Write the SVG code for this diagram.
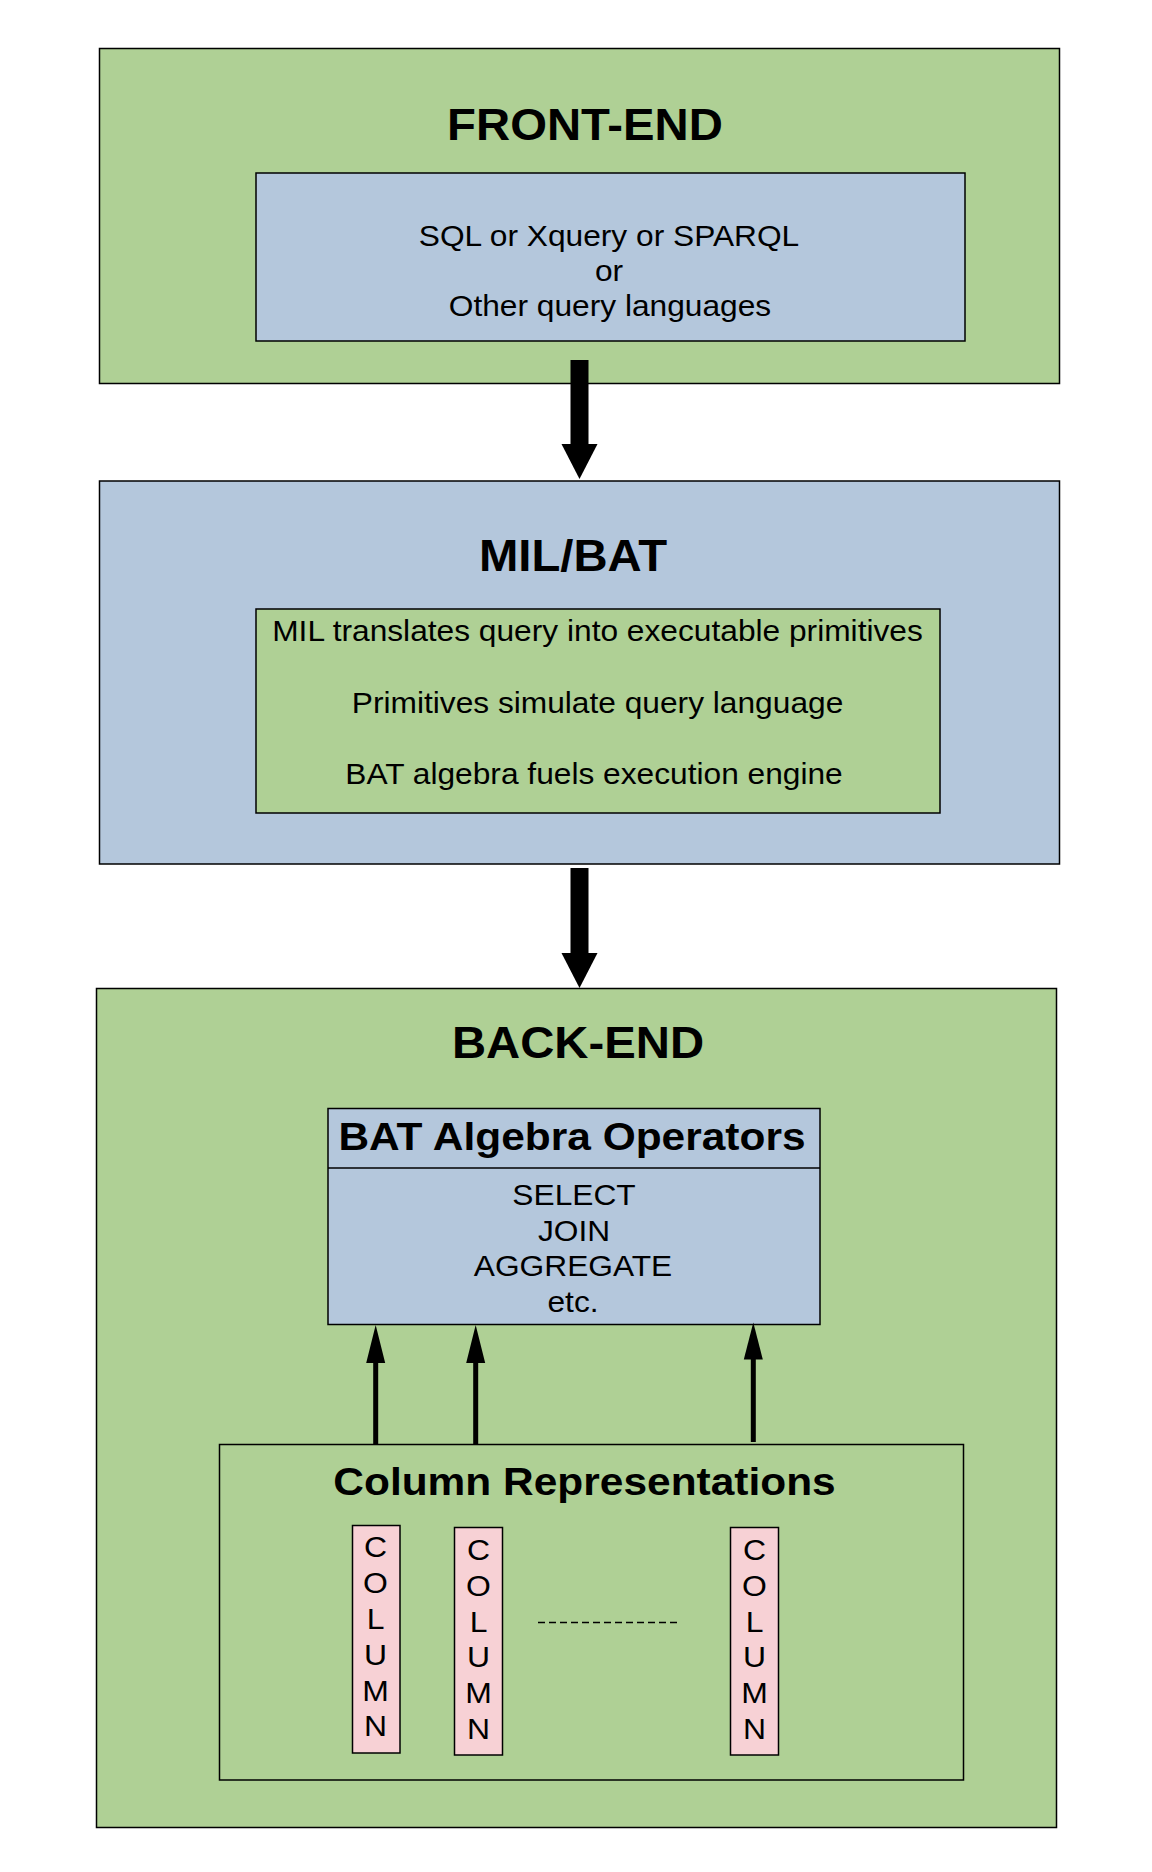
<svg xmlns="http://www.w3.org/2000/svg" width="1152" height="1872" viewBox="0 0 1152 1872">
<style>
.box{stroke:#000;stroke-width:1.5}
.g{fill:#afd095}
.b{fill:#b4c7dc}
.p{fill:#f7d1d5}
text{font-family:"Liberation Sans",Arial,sans-serif;fill:#000;text-anchor:middle}
.t{font-size:44px;font-weight:bold}
.s{font-size:29.5px}
.c{font-size:29px}
.h{font-size:39.5px;font-weight:bold}
.arr{fill:#000;stroke:none}
</style>
<rect width="1152" height="1872" fill="#fff"/>
<g id="front-end">
<rect class="box g" x="99.5" y="48.5" width="960" height="335"/>
<text class="t" transform="translate(585 0) scale(1.075 1)" x="0" y="140">FRONT-END</text>
</g>
<g id="query-languages">
<rect class="box b" x="256" y="173" width="709" height="168"/>
<text class="s" transform="translate(609 0) scale(1.075 1)" x="0" y="246">SQL or Xquery or SPARQL</text>
<text class="s" transform="translate(609 0) scale(1.075 1)" x="0" y="281">or</text>
<text class="s" transform="translate(610 0) scale(1.075 1)" x="0" y="316">Other query languages</text>
</g>
<g id="mil-bat">
<rect class="box b" x="99.5" y="481" width="960" height="383"/>
<text class="t" transform="translate(573 0) scale(1.075 1)" x="0" y="571">MIL/BAT</text>
</g>
<g id="mil-details">
<rect class="box g" x="256" y="609" width="684" height="204"/>
<text class="s" transform="translate(597.5 0) scale(1.075 1)" x="0" y="641">MIL translates query into executable primitives</text>
<text class="s" transform="translate(597.5 0) scale(1.075 1)" x="0" y="713">Primitives simulate query language</text>
<text class="s" transform="translate(594 0) scale(1.075 1)" x="0" y="784">BAT algebra fuels execution engine</text>
</g>
<g id="back-end">
<rect class="box g" x="96.5" y="988.5" width="960" height="839"/>
<text class="t" transform="translate(578 0) scale(1.075 1)" x="0" y="1058">BACK-END</text>
</g>
<g id="bat-operators">
<rect class="box b" x="328" y="1108.5" width="492" height="216"/>
<line class="box" x1="328" y1="1168" x2="820" y2="1168"/>
<text class="h" transform="translate(572 0) scale(1.075 1)" x="0" y="1150">BAT Algebra Operators</text>
<text class="s" transform="translate(574 0) scale(1.075 1)" x="0" y="1205">SELECT</text>
<text class="s" transform="translate(574 0) scale(1.075 1)" x="0" y="1241">JOIN</text>
<text class="s" transform="translate(573 0) scale(1.075 1)" x="0" y="1276">AGGREGATE</text>
<text class="s" transform="translate(573 0) scale(1.075 1)" x="0" y="1312">etc.</text>
</g>
<g id="column-representations">
<rect class="box g" x="219.5" y="1444.5" width="744" height="335.5"/>
<text class="h" transform="translate(584.5 0) scale(1.075 1)" x="0" y="1495.5">Column Representations</text>
<line x1="538" y1="1622.5" x2="681" y2="1622.5" stroke="#000" stroke-width="1.5" stroke-dasharray="7 4"/>
</g>
<g id="column-1">
<rect class="box p" x="352.5" y="1525.5" width="47.5" height="227.5"/>
<g transform="translate(375.5 0) scale(1.1 1)">
<text class="c" x="0" y="1557.5">C</text>
<text class="c" x="0" y="1593.3">O</text>
<text class="c" x="0" y="1629.1">L</text>
<text class="c" x="0" y="1664.9">U</text>
<text class="c" x="0" y="1700.7">M</text>
<text class="c" x="0" y="1736.5">N</text>
</g>
</g>
<g id="column-2">
<rect class="box p" x="454.5" y="1527.5" width="48" height="227.5"/>
<g transform="translate(478.5 0) scale(1.1 1)">
<text class="c" x="0" y="1560">C</text>
<text class="c" x="0" y="1595.8">O</text>
<text class="c" x="0" y="1631.6">L</text>
<text class="c" x="0" y="1667.4">U</text>
<text class="c" x="0" y="1703.2">M</text>
<text class="c" x="0" y="1739">N</text>
</g>
</g>
<g id="column-3">
<rect class="box p" x="730.5" y="1527.5" width="48" height="227.5"/>
<g transform="translate(754.5 0) scale(1.1 1)">
<text class="c" x="0" y="1560">C</text>
<text class="c" x="0" y="1595.8">O</text>
<text class="c" x="0" y="1631.6">L</text>
<text class="c" x="0" y="1667.4">U</text>
<text class="c" x="0" y="1703.2">M</text>
<text class="c" x="0" y="1739">N</text>
</g>
</g>
<g id="connectors">
<rect class="arr" x="570.5" y="360" width="18" height="85"/>
<polygon class="arr" points="561.5,444 597.5,444 579.5,479"/>
<rect class="arr" x="570.5" y="868" width="18" height="86"/>
<polygon class="arr" points="561.5,953 597.5,953 579.5,988"/>
<rect class="arr" x="373.2" y="1361" width="5" height="83.5"/>
<polygon class="arr" points="366.2,1363 385.2,1363 375.7,1325"/>
<rect class="arr" x="473.2" y="1361" width="5" height="83.5"/>
<polygon class="arr" points="466.2,1363 485.2,1363 475.7,1325"/>
<rect class="arr" x="750.8" y="1357" width="5" height="85"/>
<polygon class="arr" points="743.8,1359.5 762.8,1359.5 753.3,1322.5"/>
</g>
</svg>
